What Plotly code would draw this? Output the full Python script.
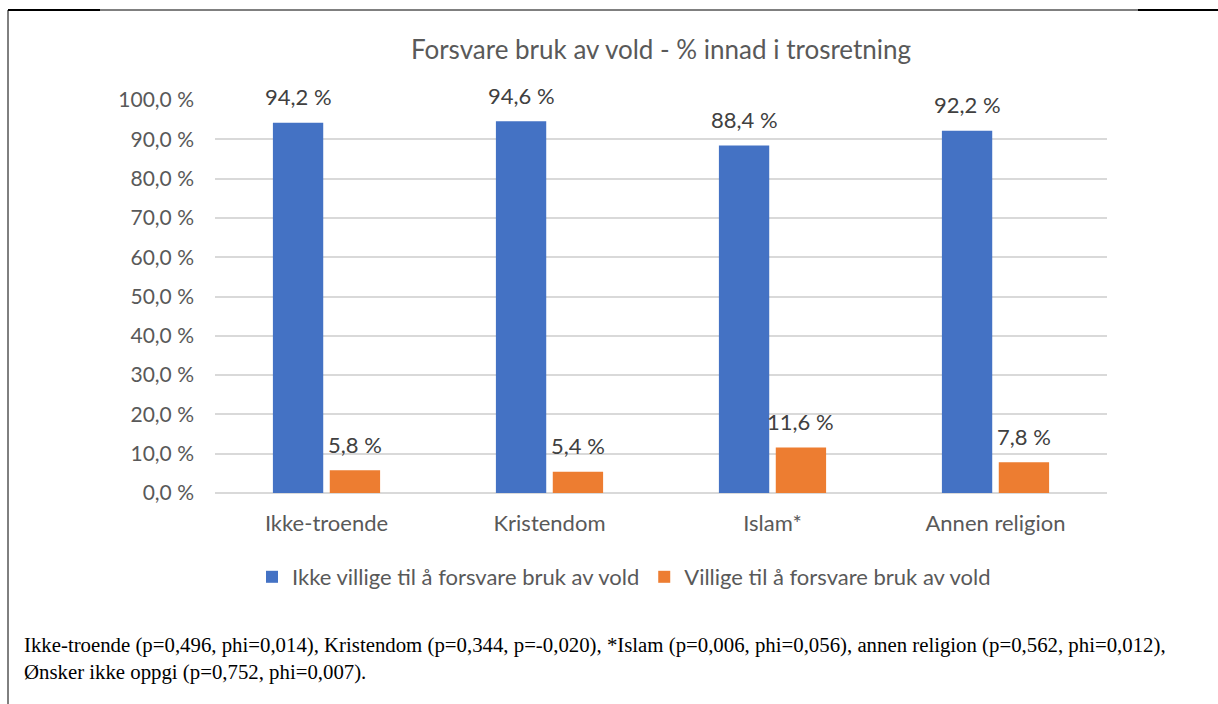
import plotly.graph_objects as go

# data
kategorier = ["Ikke-troende", "Kristendom", "Islam*", "Annen religion"]
ikke_villige = [94.2, 94.6, 88.4, 92.2]
villige = [5.8, 5.4, 11.6, 7.8]
serie_navn = ["Ikke villige til å forsvare bruk av vold", "Villige til å forsvare bruk av vold"]
farger = ["#4472C4", "#ED7D31"]
tittel = "Forsvare bruk av vold - % innad i trosretning"
fotnote = ("Ikke-troende (p=0,496, phi=0,014), Kristendom (p=0,344, p=-0,020), *Islam (p=0,006, phi=0,056), "
           "annen religion (p=0,562, phi=0,012),<br>Ønsker ikke oppgi (p=0,752, phi=0,007).")

W, H = 1218, 704
ml, mr, mt, mb = 215, 111, 100, 211
pw, ph = W - ml - mr, H - mt - mb


def px_x(p):
    return (p - ml) / pw


def px_y(p):
    return (H - mb - p) / ph


fig = go.Figure()
for navn, verdier, farge in zip(serie_navn, [ikke_villige, villige], farger):
    fig.add_trace(go.Bar(x=kategorier, y=verdier, name=navn, marker=dict(color=farge, line=dict(width=0))))

# data labels
for verdier, skift in [(ikke_villige, -28), (villige, 28)]:
    for k, v in zip(kategorier, verdier):
        fig.add_annotation(x=k, y=v, text=f"{v:.1f} %".replace(".", ","), showarrow=False,
                           xshift=skift, yshift=26, yanchor="middle",
                           font=dict(size=22, color="#404040"))

fig.add_annotation(xref="paper", yref="paper", x=px_x(22), y=px_y(631), xanchor="left", yanchor="top",
                   text=fotnote, showarrow=False, align="left",
                   font=dict(family="Liberation Serif", size=20.8, color="#000000"))

# outer frame
ramme = dict(type="line", xref="paper", yref="paper", line=dict(color="black", width=1))
fig.add_shape(**ramme, x0=px_x(8), x1=px_x(8), y0=px_y(10), y1=px_y(704))
fig.add_shape(**ramme, x0=px_x(8), x1=px_x(1140), y0=px_y(10), y1=px_y(10))
fig.add_shape(type="line", xref="paper", yref="paper", line=dict(color="black", width=2),
              x0=px_x(8), x1=px_x(100), y0=px_y(10), y1=px_y(10))
fig.add_shape(type="line", xref="paper", yref="paper", line=dict(color="black", width=2),
              x0=px_x(1138), x1=px_x(1218), y0=px_y(10), y1=px_y(10))

fig.update_layout(
    width=W, height=H,
    margin=dict(l=ml, r=mr, t=mt, b=mb),
    paper_bgcolor="white", plot_bgcolor="white",
    font=dict(family="Lato", size=22, color="#595959"),
    separators=", ",
    title=dict(text=tittel, x=0.5, xref="paper", y=1 - 50 / H, yanchor="middle",
               font=dict(size=26, color="#595959")),
    barmode="group", bargap=0.49, bargroupgap=0.115,
    legend=dict(orientation="h", x=px_x(624), xanchor="center", y=px_y(577), yanchor="middle",
                font=dict(size=22, color="#595959"), itemwidth=30),
    xaxis=dict(showline=False, ticks="", ticklabelstandoff=15, tickfont=dict(size=22)),
    yaxis=dict(range=[0, 100], dtick=10, tickformat=".1f", ticksuffix=" %",
               showgrid=True, gridcolor="#D9D9D9", gridwidth=1.5, tickfont=dict(size=21),
               zeroline=True, zerolinecolor="#D9D9D9", zerolinewidth=1.5,
               showline=False, ticklabelstandoff=20),
)

fig.write_html("out.html", config={"displayModeBar": False},
               post_script="document.body.style.margin='0';")
